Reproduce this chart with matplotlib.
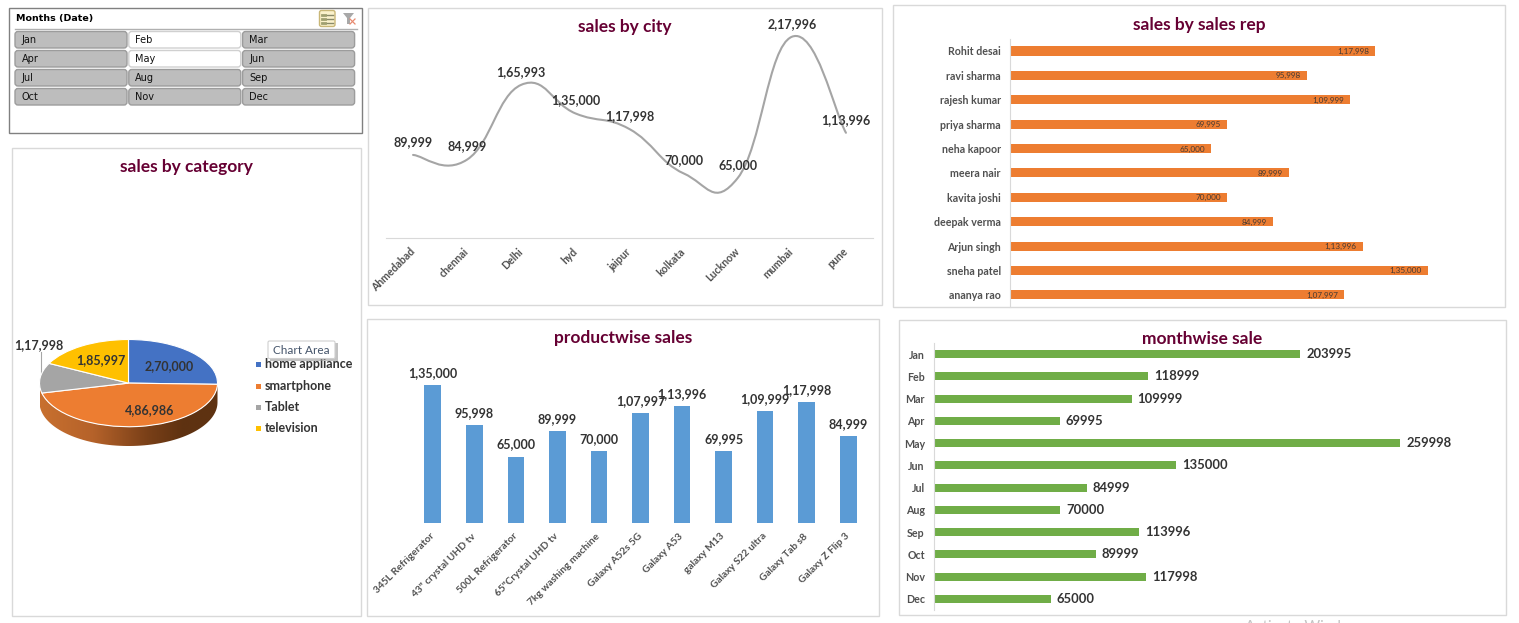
import matplotlib
matplotlib.use('Agg')
import matplotlib.pyplot as plt
import numpy as np
from matplotlib.patches import Rectangle, FancyBboxPatch, PathPatch, Polygon
from matplotlib.path import Path

plt.rcParams['font.family'] = ['Lato', 'DejaVu Sans']

W, H = 1519, 623
TITLE = '#660033'
DARK = '#333333'
TICK = '#505050'
EDGE = '#d9d9d9'

# data
months = ['Jan', 'Feb', 'Mar', 'Apr', 'May', 'Jun', 'Jul', 'Aug', 'Sep', 'Oct', 'Nov', 'Dec']
selected_months = ['Feb', 'May']

category_names = ['home appliance', 'smartphone', 'Tablet', 'television']
category_sales = [270000, 486986, 117998, 185997]
category_colors = ['#4472C4', '#ED7D31', '#A5A5A5', '#FFC000']

cities = ['Ahmedabad', 'chennai', 'Delhi', 'hyd', 'jaipur', 'kolkata', 'Lucknow', 'mumbai', 'pune']
city_sales = [89999, 84999, 165993, 135000, 117998, 70000, 65000, 217996, 113996]

reps = ['Rohit desai', 'ravi sharma', 'rajesh kumar', 'priya sharma', 'neha kapoor', 'meera nair',
        'kavita joshi', 'deepak verma', 'Arjun singh', 'sneha patel', 'ananya rao']
rep_sales = [117998, 95998, 109999, 69995, 65000, 89999, 70000, 84999, 113996, 135000, 107997]

products = ['345L Refrigerator', '43" crystal UHD tv', '500L Refrigerator', '65"Crystal UHD tv',
            '7kg washing machine', 'Galaxy A52s 5G', 'Galaxy A53', 'galaxy M13', 'Galaxy S22 ultra',
            'Galaxy Tab s8', 'Galaxy Z Flip 3']
product_sales = [135000, 95998, 65000, 89999, 70000, 107997, 113996, 69995, 109999, 117998, 84999]

month_sales = [203995, 118999, 109999, 69995, 259998, 135000, 84999, 70000, 113996, 89999, 117998, 65000]


def indian(n):
    # 1,35,000 style grouping
    s = str(int(n))
    if len(s) <= 3:
        return s
    head, tail = s[:-3], s[-3:]
    parts = []
    while len(head) > 2:
        parts.insert(0, head[-2:])
        head = head[:-2]
    parts.insert(0, head)
    return ','.join(parts) + ',' + tail


def axes_px(left, top, right, bottom):
    return fig.add_axes([left / W, 1 - bottom / H, (right - left) / W, (bottom - top) / H])


def clean(ax):
    for s in ax.spines.values():
        s.set_visible(False)
    ax.patch.set_alpha(0)


def panel(left, top, right, bottom, title, title_y):
    bg.add_patch(Rectangle((left, top), right - left, bottom - top, fc='white', ec=EDGE, lw=1))
    bg.text((left + right) / 2, title_y, title, color=TITLE, fontsize=12.5, fontweight='bold',
            ha='center', va='center')


fig = plt.figure(figsize=(W / 100, H / 100), dpi=100, facecolor='white')
bg = fig.add_axes([0, 0, 1, 1])
bg.set_xlim(0, W)
bg.set_ylim(H, 0)
bg.axis('off')

panel(12, 148, 361, 616, 'sales by category', 167)
panel(368, 8, 882, 305, 'sales by city', 27)
panel(893, 5, 1505, 307, 'sales by sales rep', 25)
panel(367, 319, 879, 616, 'productwise sales', 338)
panel(899, 320, 1506, 615, 'monthwise sale', 339)

# slicer
bg.add_patch(Rectangle((9, 8), 353, 125, fc='white', ec='#808080', lw=1))
bg.text(15.5, 18.5, 'Months (Date)', fontsize=6.8, fontweight='bold', color='black', va='center',
        family='DejaVu Sans')
bg.plot([15, 357], [28.5, 28.5], color='#b0b0b0', lw=1)
for i, m in enumerate(months):
    x = 15 + (i % 3) * 113.8
    y = 31.5 + (i // 3) * 19
    on = m in selected_months
    bg.add_patch(FancyBboxPatch((x + 2, y + 2), 108, 12.5, boxstyle='round,pad=2,rounding_size=3',
                                fc='white' if on else '#bdbdbd', ec='#d0d0d0' if on else '#9c9c9c', lw=1))
    bg.text(x + 6.5, y + 8.5, m, fontsize=7, color='#111111', va='center', family='DejaVu Sans')

# slicer icons
bg.add_patch(FancyBboxPatch((320, 11), 14.5, 15, boxstyle='round,pad=0.5,rounding_size=2',
                            fc='#fbf2cc', ec='#c9b777', lw=1))
for yy in [14.5, 18.5, 22.5]:
    bg.plot([326, 333], [yy, yy], color='#8a8a6a', lw=1)
    bg.plot([322, 325], [yy, yy], color='#a0a070', lw=2)
bg.add_patch(Polygon([[343, 13], [354, 13], [350, 18], [350, 24], [347, 24], [347, 18]], fc='#a8a8a8', ec='none'))
bg.plot([350, 355], [19, 24], color='#e88a70', lw=0.9)
bg.plot([355, 350], [19, 24], color='#e88a70', lw=0.9)

# pie, top face is a squashed circle, the rim goes under it
pie_ax = axes_px(39.5, 339.5, 217.5, 446)
pie_ax.pie(category_sales, colors=category_colors, startangle=90, counterclock=False, radius=1,
           wedgeprops={'edgecolor': 'white', 'linewidth': 0.8})
pie_ax.set_aspect('auto')
pie_ax.set_xlim(-1, 1)
drop = 19 / 43
pie_ax.set_ylim(-1 - drop, 1)
t = np.linspace(np.pi, 2 * np.pi, 80)
rim_xy = np.vstack([np.c_[np.cos(t), np.sin(t)], np.c_[np.cos(t[::-1]), np.sin(t[::-1]) - drop]])
rim = Polygon(rim_xy, fc='none', ec='none', transform=pie_ax.transData)
pie_ax.add_patch(rim)
grad = matplotlib.colors.LinearSegmentedColormap.from_list(
    'rim', [(0, '#c8702f'), (0.3, '#b5622a'), (0.6, '#7a4018'), (0.8, '#5f3211'), (1, '#5e3212')])
img = pie_ax.imshow(np.linspace(0, 1, 256)[None, :], cmap=grad, extent=[-1, 1, -1 - drop, 1], aspect='auto', zorder=0.5)
img.set_clip_path(rim)
pie_ax.set_xlim(-1, 1)
pie_ax.set_ylim(-1 - drop, 1)

for label, x, y in [(category_sales[0], 169, 366), (category_sales[1], 150, 410),
                    (category_sales[3], 101, 360), (category_sales[2], 39, 345)]:
    fig.text(x / W, 1 - y / H, indian(label), color=DARK, fontsize=9, fontweight='bold', ha='center', va='center')
bg.plot([41, 41], [352, 391], color='#a6a6a6', lw=0.8, zorder=10)

for name, col, y in zip(category_names, category_colors, [364, 386, 407, 428]):
    bg.add_patch(Rectangle((256, y - 2), 5, 5, fc=col, ec='none'))
    bg.text(265, y, name, color=DARK, fontsize=9, fontweight='bold', va='center')

# tooltip over the legend
bg.add_patch(Rectangle((270, 343), 68, 18, fc='#9a9a9a', ec='none', alpha=0.6, zorder=5))
bg.add_patch(FancyBboxPatch((268.5, 341.5), 66, 16.5, boxstyle='round,pad=0.5,rounding_size=1.5', fc='white',
                            ec='#d0d0d0', lw=0.8, zorder=6))
bg.text(301, 350, 'Chart Area', color='#44546A', fontsize=8.5, ha='center', va='center', zorder=7)

# line chart, excel style smooth line
city_ax = axes_px(386, 20, 873, 238)
clean(city_ax)
px_per_k = 0.923
city_ax.set_xlim(-0.5, len(cities) - 0.5)
city_ax.set_ylim(0, (238 - 20) / px_per_k * 1000)
xs = np.arange(len(cities), dtype=float)
ys = np.array(city_sales, dtype=float)
verts = [(xs[0], ys[0])]
codes = [Path.MOVETO]
for i in range(len(xs) - 1):
    p0 = i - 1 if i > 0 else i
    p3 = i + 2 if i + 2 < len(xs) else i + 1
    verts.append((xs[i] + (xs[i + 1] - xs[p0]) / 4.5, ys[i] + (ys[i + 1] - ys[p0]) / 4.5))
    verts.append((xs[i + 1] - (xs[p3] - xs[i]) / 4.5, ys[i + 1] - (ys[p3] - ys[i]) / 4.5))
    verts.append((xs[i + 1], ys[i + 1]))
    codes += [Path.CURVE4] * 3
city_ax.add_patch(PathPatch(Path(verts, codes), fc='none', ec='#A5A5A5', lw=1.5, capstyle='round'))
for x, v in zip(xs, city_sales):
    city_ax.annotate(indian(v), (x, v), xytext=(0, 13), textcoords='offset pixels', ha='center', va='center',
                     color=DARK, fontsize=9, fontweight='bold', annotation_clip=False)
city_ax.spines['bottom'].set_visible(True)
city_ax.spines['bottom'].set_color(EDGE)
city_ax.set_yticks([])
city_ax.set_xticks(xs)
city_ax.set_xticklabels(cities, rotation=45, ha='right', va='center', rotation_mode='anchor', color=TICK,
                        fontsize=7.6, fontweight='bold')
city_ax.tick_params(axis='x', length=0, pad=8.5)

# sales rep bars
rep_ax = axes_px(1010.5, 38.8, 1440, 307)
clean(rep_ax)
rep_pos = np.arange(len(reps))
rep_ax.barh(rep_pos, rep_sales, height=0.37, color='#ED7D31')
rep_ax.set_xlim(0, (1440 - 1010.5) / 3.09 * 1000)
rep_ax.set_ylim(len(reps) - 0.5, -0.5)
rep_ax.spines['left'].set_visible(True)
rep_ax.spines['left'].set_color(EDGE)
rep_ax.set_xticks([])
rep_ax.set_yticks(rep_pos)
rep_ax.set_yticklabels(reps, color=TICK, fontsize=7.7, fontweight='bold')
rep_ax.tick_params(axis='y', length=0, pad=7)
for p, v in zip(rep_pos, rep_sales):
    rep_ax.annotate(indian(v), (v, p), xytext=(-6, -0.5), textcoords='offset pixels', ha='right', va='center',
                    color=DARK, fontsize=5.9, alpha=0.9)

# product bars
prod_ax = axes_px(412, 370, 869, 523)
clean(prod_ax)
prod_pos = np.arange(len(products))
prod_ax.bar(prod_pos, product_sales, width=0.4, color='#5B9BD5')
prod_ax.set_xlim(-0.5, len(products) - 0.5)
prod_ax.set_ylim(0, 153 / 1.022 * 1000)
prod_ax.set_yticks([])
prod_ax.set_xticks(prod_pos)
prod_ax.set_xticklabels(products, rotation=45, ha='right', va='center', rotation_mode='anchor', color=TICK,
                        fontsize=7.3, fontweight='bold')
prod_ax.tick_params(axis='x', length=0, pad=8.5)
for p, v in zip(prod_pos, product_sales):
    prod_ax.annotate(indian(v), (p, v), xytext=(0, 12), textcoords='offset pixels', ha='center', va='center',
                     color=DARK, fontsize=9, fontweight='bold', annotation_clip=False)

# month bars
month_ax = axes_px(934.5, 343, 1470, 610)
clean(month_ax)
month_pos = np.arange(len(months))
month_ax.barh(month_pos, month_sales, height=0.36, color='#70AD47')
month_ax.set_xlim(0, (1470 - 934.5) / 1.792 * 1000)
month_ax.set_ylim(len(months) - 0.5, -0.5)
month_ax.spines['left'].set_visible(True)
month_ax.spines['left'].set_color(EDGE)
month_ax.set_xticks([])
month_ax.set_yticks(month_pos)
month_ax.set_yticklabels(months, color=TICK, fontsize=7.7, fontweight='bold')
month_ax.tick_params(axis='y', length=0, pad=7)
for p, v in zip(month_pos, month_sales):
    month_ax.annotate(str(v), (v, p), xytext=(6, 0), textcoords='offset pixels', ha='left', va='center',
                      color=DARK, fontsize=9.4, fontweight='bold')

# windows watermark, cut off by the screenshot edge
bg.text(1245, 627, 'Activate Windows', color='#c4c4c4', fontsize=11, va='center', clip_on=True)

fig.savefig('out.png', dpi=100)
